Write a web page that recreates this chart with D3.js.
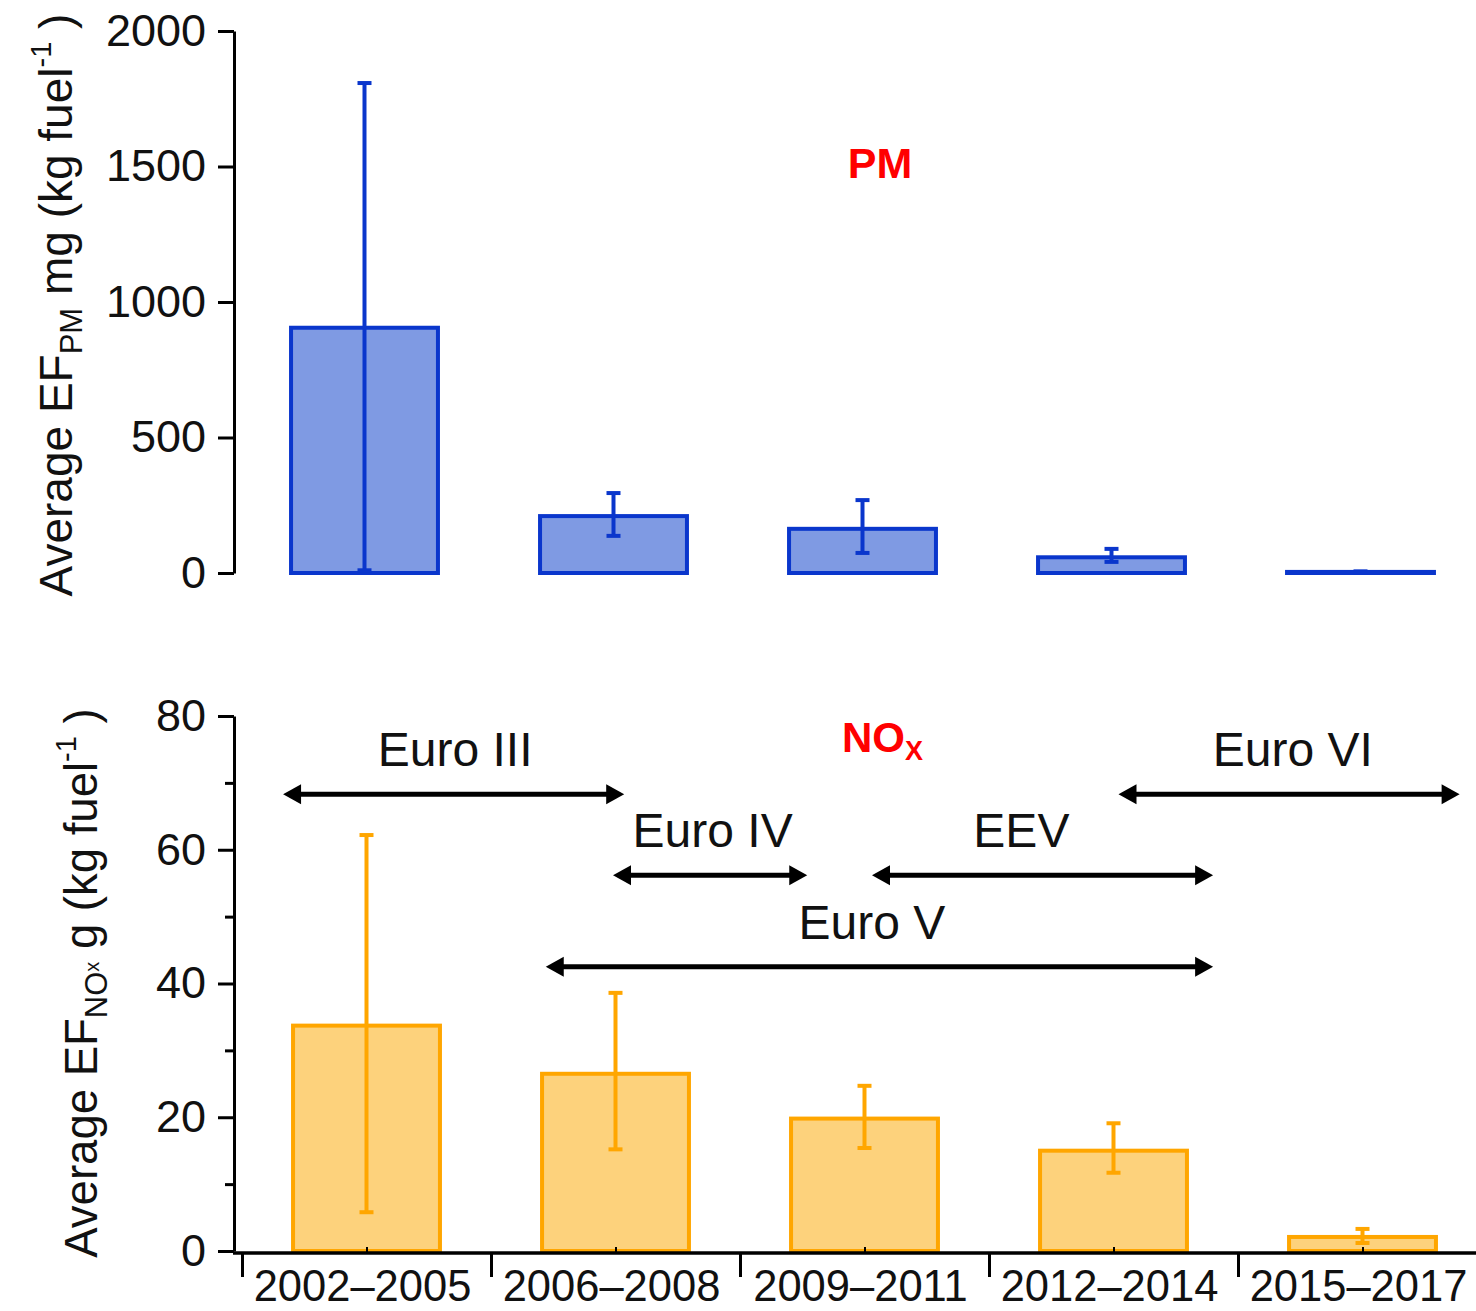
<!DOCTYPE html>
<html>
<head>
<meta charset="utf-8">
<script src="https://cdnjs.cloudflare.com/ajax/libs/d3/7.8.5/d3.min.js"></script>
<style>
html,body{margin:0;padding:0;background:#fff;}
svg{display:block;font-family:"Liberation Sans",Arial,sans-serif;}
</style>
</head>
<body>
<svg id="chart" width="1476" height="1311"></svg>
<script>
// ---------- data ----------
const categories = ["2002–2005","2006–2008","2009–2011","2012–2014","2015–2017"];
const pmMean = [905, 210, 163, 58, 4];
const pmLow  = [10, 137, 74, 41, 2];
const pmHigh = [1808, 295, 269, 89, 6];
const noxMean = [33.7, 26.5, 19.8, 15.0, 2.1];
const noxLow  = [5.8, 15.2, 15.4, 11.7, 1.2];
const noxHigh = [62.2, 38.6, 24.7, 19.1, 3.3];
const pmTicks = [0, 500, 1000, 1500, 2000];
const noxTicks = [0, 20, 40, 60, 80];
const noxMinorTicks = [10, 30, 50, 70];
const stages = ["Euro III", "Euro IV", "EEV", "Euro V", "Euro VI"];
const stageStart = [0.165, 1.49, 2.53, 1.22, 3.52];   // in category units
const stageEnd   = [1.535, 2.27, 3.90, 3.90, 4.89];
const stageLevel = [68.3, 56.2, 56.2, 42.5, 68.3];    // in g/kg units
const stageLabelX = [0.856, 1.89, 3.13, 2.53, 4.22];

// ---------- layout ----------
const svg = d3.select("#chart");
const FS = 45;
const topP = {y0: 573, y1: 31, x0: 240, x1: 1485, axisX: 234};
const botP = {y0: 1251, y1: 716, x0: 242, x1: 1487, axisX: 234, axisY: 1253};

function band(p){
  return d3.scaleBand().domain(categories).range([p.x0, p.x1]).paddingInner(0.41).paddingOuter(0.205);
}
function pos(p){ return d3.scaleLinear().domain([0,5]).range([p.x0, p.x1]); }

function drawBars(g, x, y, mean, lo, hi, fill, stroke){
  const data = categories.map((c,i)=>({c, m:mean[i], lo:lo[i], hi:hi[i]}));
  g.selectAll("rect.bar").data(data).join("rect").attr("class","bar")
    .attr("x", d=>x(d.c)).attr("width", x.bandwidth())
    .attr("y", d=>y(d.m)).attr("height", d=>y(0)-y(d.m))
    .attr("fill", fill).attr("stroke", stroke).attr("stroke-width", 4);
  const eb = g.selectAll("g.eb").data(data).join("g").attr("class","eb")
    .attr("stroke", stroke).attr("stroke-width", 4);
  eb.append("line").attr("x1", d=>x(d.c)+x.bandwidth()/2).attr("x2", d=>x(d.c)+x.bandwidth()/2)
    .attr("y1", d=>y(d.lo)).attr("y2", d=>y(d.hi));
  eb.append("line").attr("x1", d=>x(d.c)+x.bandwidth()/2-7).attr("x2", d=>x(d.c)+x.bandwidth()/2+7)
    .attr("y1", d=>y(d.hi)).attr("y2", d=>y(d.hi));
  eb.append("line").attr("x1", d=>x(d.c)+x.bandwidth()/2-7).attr("x2", d=>x(d.c)+x.bandwidth()/2+7)
    .attr("y1", d=>y(d.lo)).attr("y2", d=>y(d.lo));
}

function styleAxis(a){
  a.selectAll("path.domain").attr("stroke","#000").attr("stroke-width",3);
  a.selectAll(".tick line").attr("stroke","#000").attr("stroke-width",3);
  a.selectAll(".tick text").attr("font-size",FS).attr("fill","#111").attr("font-family",'"Liberation Sans",Arial,sans-serif');
}

// ---------- PM panel ----------
{
  const x = band(topP);
  const y = d3.scaleLinear().domain([0,2000]).range([topP.y0, topP.y1]);
  const g = svg.append("g");
  drawBars(g, x, y, pmMean, pmLow, pmHigh, "#7f9ae3", "#0a36cc");
  const ax = svg.append("g").attr("transform",`translate(${topP.axisX},0)`)
    .call(d3.axisLeft(y).tickValues(pmTicks).tickFormat(d3.format("d")).tickSize(16).tickPadding(12).tickSizeOuter(0));
  styleAxis(ax);
  svg.append("text").attr("x", 880).attr("y", 178).attr("text-anchor","middle")
    .attr("font-size", 43).attr("font-weight","bold").attr("fill","#ff0000").text("PM");
  const t = svg.append("text").attr("transform","translate(72,305) rotate(-90)")
    .attr("text-anchor","middle").attr("font-size",46).attr("fill","#111");
  t.append("tspan").text("Average EF");
  t.append("tspan").attr("font-size",31).attr("dy",10).text("PM");
  t.append("tspan").attr("dy",-10).text(" mg (kg fuel");
  t.append("tspan").attr("font-size",29).attr("dy",-21).text("-1");
  t.append("tspan").attr("dy",21).text(" )");
}

// ---------- NOx panel ----------
{
  const x = band(botP);
  const p = pos(botP);
  const y = d3.scaleLinear().domain([0,80]).range([botP.y0, botP.y1]);
  const g = svg.append("g");
  drawBars(g, x, y, noxMean, noxLow, noxHigh, "#fdd27c", "#ffa600");

  const ax = svg.append("g").attr("transform",`translate(${botP.axisX},0)`)
    .call(d3.axisLeft(y).tickValues(noxTicks).tickSize(16).tickPadding(12).tickSizeOuter(0));
  styleAxis(ax);
  const axm = svg.append("g").attr("transform",`translate(${botP.axisX},0)`)
    .call(d3.axisLeft(y).tickValues(noxMinorTicks).tickSize(9).tickFormat("").tickSizeOuter(0));
  styleAxis(axm);
  axm.select("path.domain").remove();

  // x axis line
  svg.append("line").attr("x1", botP.axisX-1).attr("x2", 1476).attr("y1", botP.axisY).attr("y2", botP.axisY)
    .attr("stroke","#000").attr("stroke-width",3.5);
  // boundary ticks (down)
  const xb = svg.append("g").attr("transform",`translate(0,${botP.axisY})`)
    .call(d3.axisBottom(p).tickValues([0,1,2,3,4,5]).tickSize(24).tickFormat("").tickSizeOuter(0));
  xb.select("path.domain").remove();
  xb.selectAll(".tick line").attr("stroke","#000").attr("stroke-width",3);
  // center minor ticks (up)
  const xc = svg.append("g").attr("transform",`translate(0,${botP.axisY})`)
    .call(d3.axisTop(p).tickValues([0.5,1.5,2.5,3.5,4.5]).tickSize(6).tickFormat("").tickSizeOuter(0));
  xc.select("path.domain").remove();
  xc.selectAll(".tick line").attr("stroke","#000").attr("stroke-width",2);
  // category labels
  svg.append("g").selectAll("text").data(categories).join("text")
    .attr("x", d=>x(d)+x.bandwidth()/2 - 4).attr("y", 1301).attr("text-anchor","middle")
    .attr("font-size",43.5).attr("fill","#111").text(d=>d);

  // stage arrows
  const ag = svg.append("g");
  stages.forEach((s,i)=>{
    const xa = p(stageStart[i]), xe = p(stageEnd[i]), ya = y(stageLevel[i]);
    const hl = 18, hw = 10;
    ag.append("line").attr("x1", xa+hl-2).attr("x2", xe-hl+2).attr("y1", ya).attr("y2", ya)
      .attr("stroke","#000").attr("stroke-width",5);
    ag.append("path").attr("d", `M${xa},${ya}L${xa+hl},${ya-hw}L${xa+hl},${ya+hw}Z`).attr("fill","#000");
    ag.append("path").attr("d", `M${xe},${ya}L${xe-hl},${ya-hw}L${xe-hl},${ya+hw}Z`).attr("fill","#000");
    ag.append("text").attr("x", p(stageLabelX[i])).attr("y", ya-28).attr("text-anchor","middle")
      .attr("font-size",48).attr("fill","#111").text(s);
  });

  const nt = svg.append("text").attr("x", 842).attr("y", 752).attr("font-size",42)
    .attr("font-weight","bold").attr("fill","#ff0000");
  nt.append("tspan").text("NO");
  nt.append("tspan").attr("font-size",27).attr("dy",8).text("X");

  const t = svg.append("text").attr("transform","translate(97,983) rotate(-90)")
    .attr("text-anchor","middle").attr("font-size",45.5).attr("fill","#111");
  t.append("tspan").text("Average EF");
  t.append("tspan").attr("font-size",31).attr("dy",10).text("NO");
  t.append("tspan").attr("font-size",20).attr("dy",-8).text("x");
  t.append("tspan").attr("dy",-2).text(" g (kg fuel");
  t.append("tspan").attr("font-size",29).attr("dy",-21).text("-1");
  t.append("tspan").attr("dy",21).text(" )");
}
</script>
</body>
</html>
